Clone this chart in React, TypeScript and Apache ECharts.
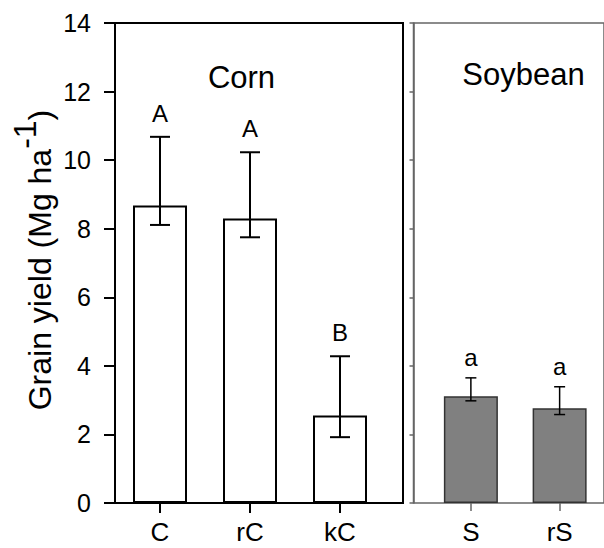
import React, { useEffect, useRef } from "react";
import * as echarts from "echarts";

const cornCats = ["C", "rC", "kC"];
const cornMean = [8.68, 8.3, 2.55];
const cornLow = [8.11, 7.75, 1.92];
const cornHigh = [10.68, 10.23, 4.28];
const cornLetters = ["A", "A", "B"];

const soyCats = ["S", "rS"];
const soyMean = [3.11, 2.76];
const soyLow = [2.98, 2.58];
const soyHigh = [3.65, 3.39];
const soyLetters = ["a", "a"];

const yTitleMain = "Grain yield (Mg ha";
const yTitleSup = "-1";
const yTitleEnd = ")";

const FONT = "'Liberation Sans', Arial, Helvetica, sans-serif";

function measure(text: string, size: number): number {
  try {
    const el = new (echarts.graphic as any).Text({ style: { text, fontSize: size, fontFamily: FONT } });
    const w = el.getBoundingRect().width;
    if (w > 0) return w;
  } catch (e) {}
  return text.length * size * 0.5;
}

function errRender(letters: string[], color: string, lw: number, capHalf: number, textOffset: number) {
  return (params: any, api: any) => {
    const x = api.value(0);
    const lo = api.value(1);
    const hi = api.value(2);
    const pLo = api.coord([x, lo]);
    const pHi = api.coord([x, hi]);
    const cx = pLo[0];
    const st = { stroke: color, lineWidth: lw };
    return {
      type: "group",
      children: [
        { type: "line", shape: { x1: cx, y1: pLo[1], x2: cx, y2: pHi[1] }, style: st },
        { type: "line", shape: { x1: cx - capHalf, y1: pHi[1], x2: cx + capHalf, y2: pHi[1] }, style: st },
        { type: "line", shape: { x1: cx - capHalf, y1: pLo[1], x2: cx + capHalf, y2: pLo[1] }, style: st },
        {
          type: "text",
          x: cx,
          y: pHi[1] - textOffset,
          style: {
            text: letters[params.dataIndex],
            fontSize: 24,
            fontFamily: FONT,
            fill: "#000",
            align: "center",
            verticalAlign: "middle",
          },
        },
      ],
    };
  };
}

export default function App() {
  const ref = useRef<HTMLDivElement>(null);
  useEffect(() => {
    if (!ref.current) return;
    const chart = echarts.init(ref.current, undefined, { renderer: "svg" });
    const hiddenVal = { type: "value", min: 0, max: 14, show: false };
    const nameSize = 32;
    const w1 = measure(yTitleMain, nameSize);
    const w2 = measure(yTitleSup, nameSize);
    const w3 = measure(yTitleEnd, nameSize);
    const total = w1 + w2 + w3;
    const centerY = 260;
    const mid = -0.3465 * nameSize;
    const nameStyle = { fontSize: nameSize, fontFamily: FONT, fill: "#000", align: "left", verticalAlign: "middle" };
    const option: any = {
      animation: false,
      backgroundColor: "#fff",
      grid: [
        { left: 115, top: 23, width: 288, height: 480, show: true, borderColor: "#000", borderWidth: 2, backgroundColor: "transparent" },
        { left: 115, top: 23, width: 270, height: 480 },
        { left: 413.5, top: 23, width: 230, height: 480, show: true, borderColor: "#666", borderWidth: 1.5, backgroundColor: "transparent" },
        { left: 426.5, top: 23, width: 180, height: 480 },
      ],
      xAxis: [
        { gridIndex: 0, type: "value", min: 0, max: 1, show: false },
        {
          gridIndex: 1,
          type: "category",
          data: cornCats,
          boundaryGap: true,
          axisLine: { show: false },
          axisTick: { show: true, alignWithLabel: true, length: 10, lineStyle: { color: "#000", width: 2 } },
          axisLabel: { fontSize: 26, fontFamily: FONT, color: "#000", margin: 16 },
        },
        { gridIndex: 2, type: "value", min: 0, max: 1, show: false },
        {
          gridIndex: 3,
          type: "category",
          data: soyCats,
          boundaryGap: true,
          axisLine: { show: false },
          axisTick: { show: true, alignWithLabel: true, length: 8, lineStyle: { color: "#666", width: 1.5 } },
          axisLabel: { fontSize: 26, fontFamily: FONT, color: "#000", margin: 16 },
        },
      ],
      yAxis: [
        {
          gridIndex: 0,
          type: "value",
          min: 0,
          max: 14,
          interval: 2,
          axisLine: { show: true, lineStyle: { color: "#000", width: 2 } },
          axisTick: { show: true, length: 11, lineStyle: { color: "#000", width: 2 } },
          axisLabel: { fontSize: 25, fontFamily: FONT, color: "#000", margin: 24 },
          splitLine: { show: false },
        },
        { gridIndex: 1, ...hiddenVal },
        {
          gridIndex: 2,
          type: "value",
          min: 0,
          max: 14,
          interval: 2,
          axisLine: { show: true, lineStyle: { color: "#666", width: 1.5 } },
          axisTick: { show: true, length: 4, lineStyle: { color: "#666", width: 1.5 } },
          axisLabel: { show: false },
          splitLine: { show: false },
        },
        { gridIndex: 3, ...hiddenVal },
      ],
      graphic: [
        { type: "text", x: 241.5, y: 77.5, style: { text: "Corn", fontSize: 31, fontFamily: FONT, fill: "#000", align: "center", verticalAlign: "middle" } },
        { type: "text", x: 523.5, y: 74, style: { text: "Soybean", fontSize: 31, fontFamily: FONT, fill: "#000", align: "center", verticalAlign: "middle" } },
        {
          type: "group",
          x: 51,
          y: centerY + total / 2,
          rotation: Math.PI / 2,
          children: [
            { type: "text", x: 0, y: mid, style: { ...nameStyle, text: yTitleMain } },
            { type: "text", x: w1, y: mid - 15, style: { ...nameStyle, text: yTitleSup } },
            { type: "text", x: w1 + w2, y: mid, style: { ...nameStyle, text: yTitleEnd } },
          ],
        },
      ],
      series: [
        {
          type: "bar",
          xAxisIndex: 1,
          yAxisIndex: 1,
          data: cornMean,
          barWidth: 54,
          itemStyle: { color: "#fff", borderColor: "#000", borderWidth: 2 },
        },
        {
          type: "custom",
          xAxisIndex: 1,
          yAxisIndex: 1,
          data: cornCats.map((c, i) => [i, cornLow[i], cornHigh[i]]),
          encode: { x: 0, y: [1, 2] },
          renderItem: errRender(cornLetters, "#000", 2, 10, 23.5),
          z: 5,
        },
        {
          type: "bar",
          xAxisIndex: 3,
          yAxisIndex: 3,
          data: soyMean,
          barWidth: 54,
          itemStyle: { color: "#808080", borderColor: "#333", borderWidth: 1.5 },
        },
        {
          type: "custom",
          xAxisIndex: 3,
          yAxisIndex: 3,
          data: soyCats.map((c, i) => [i, soyLow[i], soyHigh[i]]),
          encode: { x: 0, y: [1, 2] },
          renderItem: errRender(soyLetters, "#000", 1.5, 5.5, 20.5),
          z: 5,
        },
      ],
    };
    chart.setOption(option);
    return () => chart.dispose();
  }, []);
  return <div ref={ref} style={{ position: "absolute", left: 0, top: 0, width: 604, height: 548 }} />;
}
